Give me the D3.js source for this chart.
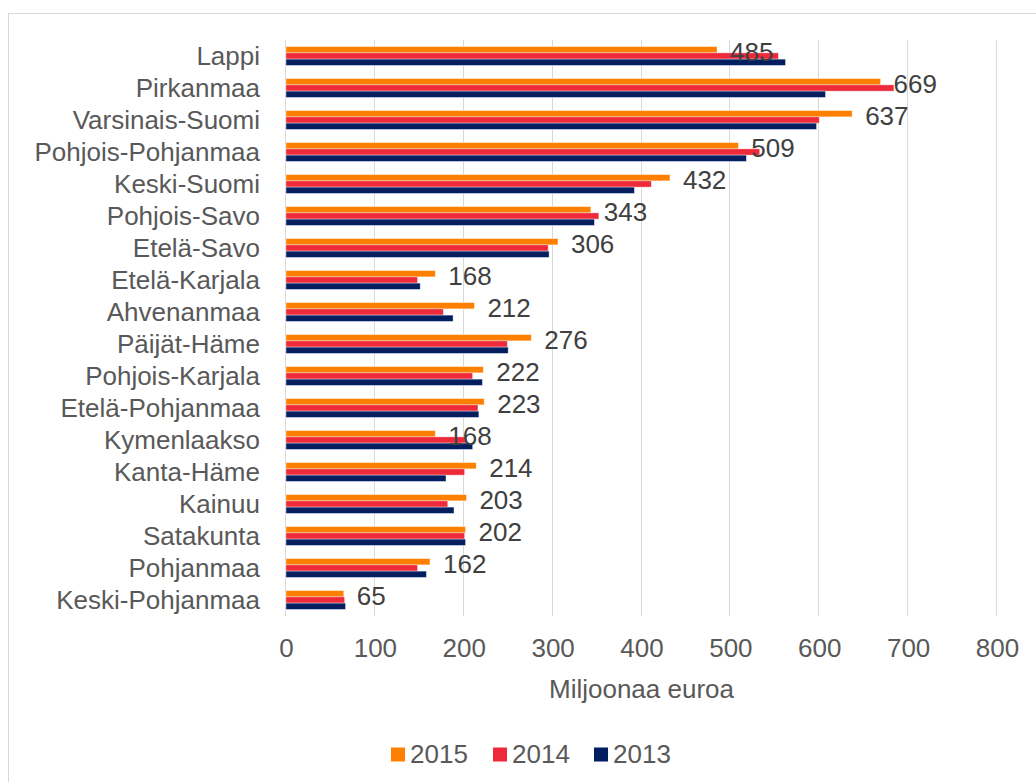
<!DOCTYPE html>
<html>
<head>
    <title></title>
    <script src="https://d3js.org/d3.v7.min.js"></script>
    <style type="text/css">
        html, body {
            margin: 0;
            padding: 0;
            background: #fff;
        }
        svg text {
            font-family: "Liberation Sans", Arial, sans-serif;
        }
    </style>
</head>
<body>

    <svg id="main"></svg>

    <script>
      // settings
      const width  = 1036;
      const height = 782;
      const margin = {top: 40, left: 286, right: 39, bottom: 166};
      const FONT = 26;

      // data
      const regions = ["Lappi", "Pirkanmaa", "Varsinais-Suomi", "Pohjois-Pohjanmaa", "Keski-Suomi",
        "Pohjois-Savo", "Etelä-Savo", "Etelä-Karjala", "Ahvenanmaa", "Päijät-Häme", "Pohjois-Karjala",
        "Etelä-Pohjanmaa", "Kymenlaakso", "Kanta-Häme", "Kainuu", "Satakunta", "Pohjanmaa", "Keski-Pohjanmaa"];
      const years = ["2015", "2014", "2013"];
      const v2015 = [485, 669, 637, 509, 432, 343, 306, 168, 212, 276, 222, 223, 168, 214, 203, 202, 162, 65];
      const v2014 = [554, 684, 600, 533, 411, 352, 295, 148, 177, 249, 210, 216, 203, 201, 182, 201, 148, 66];
      const v2013 = [562, 607, 597, 518, 392, 347, 296, 151, 188, 250, 221, 217, 210, 180, 189, 202, 158, 67];
      const ticks = [0, 100, 200, 300, 400, 500, 600, 700, 800];
      const colors = ["#ff8000", "#ee2a3a", "#001e60"];

      const series = [v2015, v2014, v2013];
      const rows = regions.map((r, i) => ({region: r, values: series.map(s => s[i])}));

      // draw
      const svg = d3.select("#main")
        .attr("width", width)
        .attr("height", height);

      // outer chart border
      svg.append("rect")
        .attr("x", 8.5).attr("y", 13.5)
        .attr("width", width + 20).attr("height", height + 20)
        .attr("fill", "#fff")
        .attr("stroke", "#d9d9d9");

      const x = d3.scaleLinear()
        .domain([0, 800])
        .range([margin.left, width - margin.right]);

      const y = d3.scaleBand()
        .domain(regions)
        .range([margin.top, height - margin.bottom]);

      const y1 = d3.scaleBand()
        .domain(years)
        .range([0, y.bandwidth()])
        .paddingOuter(1.05);

      // gridlines
      svg.append("g")
        .selectAll("line")
        .data(ticks)
        .enter()
        .append("line")
        .attr("x1", d => Math.round(x(d)) - 0.5)
        .attr("x2", d => Math.round(x(d)) - 0.5)
        .attr("y1", y.range()[0])
        .attr("y2", y.range()[1])
        .attr("stroke", "#d9d9d9")
        .attr("stroke-width", 1);

      // bars
      const groups = svg.append("g")
        .selectAll("g")
        .data(rows)
        .enter()
        .append("g")
        .attr("transform", d => `translate(0,${y(d.region)})`);

      groups.selectAll("rect")
        .data(d => d.values.map((v, i) => ({year: years[i], value: v, i: i})))
        .enter()
        .append("rect")
        .attr("x", x(0))
        .attr("y", d => y1(d.year))
        .attr("width", d => x(d.value) - x(0))
        .attr("height", y1.bandwidth())
        .attr("fill", d => colors[d.i])
        .attr("stroke", "#fff")
        .attr("stroke-opacity", 0.5)
        .attr("stroke-width", 0.75);

      // data labels (2015)
      groups.append("text")
        .attr("x", d => x(d.values[0]) + 13)
        .attr("y", y.bandwidth() / 2 - 4)
        .attr("dy", "0.35em")
        .attr("font-size", FONT)
        .attr("fill", "#404040")
        .text(d => d.values[0]);

      // category labels
      svg.append("g")
        .selectAll("text")
        .data(regions)
        .enter()
        .append("text")
        .attr("x", 260)
        .attr("y", d => y(d) + y.bandwidth() / 2)
        .attr("dy", "0.35em")
        .attr("text-anchor", "end")
        .attr("font-size", FONT)
        .attr("fill", "#595959")
        .text(d => d);

      // x axis tick labels
      const xAxis = d3.axisBottom(x).tickValues(ticks).tickSize(0).tickPadding(0);
      const gx = svg.append("g")
        .attr("transform", "translate(0,638.5)")
        .call(xAxis);
      gx.select(".domain").remove();
      gx.selectAll("text")
        .attr("font-family", "'Liberation Sans', Arial, sans-serif")
        .attr("font-size", FONT)
        .attr("fill", "#595959");

      // axis title
      svg.append("text")
        .attr("x", (x.range()[0] + x.range()[1]) / 2)
        .attr("y", 698)
        .attr("text-anchor", "middle")
        .attr("font-size", FONT)
        .attr("fill", "#595959")
        .text("Miljoonaa euroa");

      // legend
      const legendX = [391, 493, 594];
      const legend = svg.append("g")
        .selectAll("g")
        .data(years)
        .enter()
        .append("g")
        .attr("transform", (d, i) => `translate(${legendX[i]},747.5)`);
      legend.append("rect")
        .attr("width", 14).attr("height", 14)
        .attr("fill", (d, i) => colors[i]);
      legend.append("text")
        .attr("x", 19)
        .attr("y", 15.5)
        .attr("font-size", FONT)
        .attr("fill", "#595959")
        .text(d => d);
    </script>

</body>
</html>
